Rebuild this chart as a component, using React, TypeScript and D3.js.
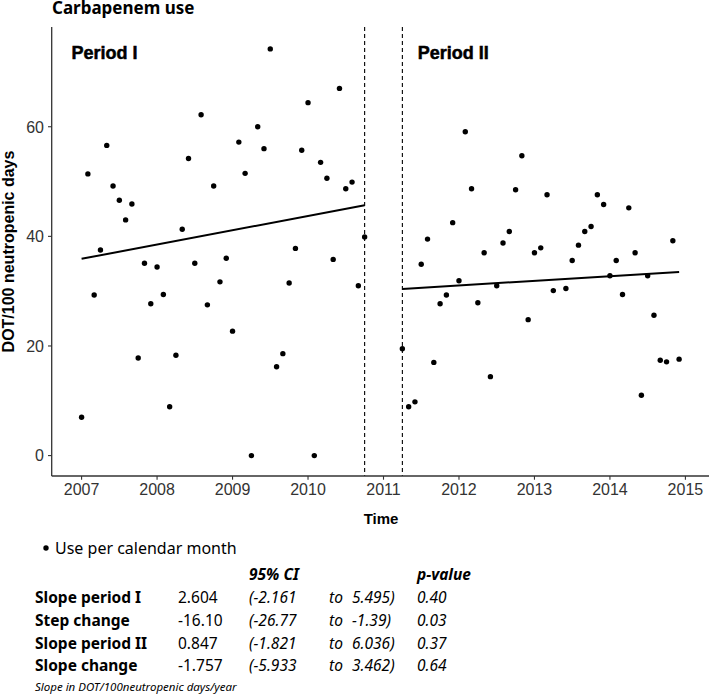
import React from 'react';
import * as d3 from 'd3';

const W = 709;
const H = 695;

// Monthly carbapenem use (DOT/100 neutropenic days)
const startYear = 2007;
const period1StartMonth = 0; // Jan 2007
const period1Values = [7.0, 51.4, 29.3, 37.5, 56.6, 49.2, 46.6, 43.0, 45.9, 17.8, 35.1, 27.7, 34.4, 29.4, 8.9, 18.3, 41.3, 54.2, 35.1, 62.2, 27.5, 49.2, 31.7, 36.0, 22.7, 57.2, 51.5, 0, 60.0, 56.0, 74.2, 16.2, 18.6, 31.5, 37.8, 55.7, 64.4, 0, 53.5, 50.6, 35.8, 67.0, 48.7, 49.9, 31.0, 39.9];
const period2StartMonth = 51; // Apr 2011
const period2Values: (number | null)[] = [19.5, 8.9, 9.8, 34.9, 39.5, 17.0, 27.7, 29.3, 42.5, 31.9, 59.1, 48.7, 27.9, 37.0, 14.4, 31.0, 38.8, 40.9, 48.5, 54.7, 24.8, 37.0, 37.9, 47.6, 30.1, null, 30.5, 35.6, 38.4, 40.9, 41.8, 47.6, 45.8, 32.8, 35.6, 29.4, 45.2, 37.0, 11.0, 32.8, 25.6, 17.4, 17.1, 39.2, 17.6];

// Segmented regression trend lines
const trendIntercepts = [35.9, 30.4];
const trendSlopes = [2.604, 0.847];

const periodLabels = ['Period I', 'Period II'];
const xTicks = [2007, 2008, 2009, 2010, 2011, 2012, 2013, 2014, 2015];
const yTicks = [0, 20, 40, 60];

// Table
const tableRowLabels = ['Slope period I', 'Step change', 'Slope period II', 'Slope change'];
const tableEstimates = ['2.604', '-16.10', '0.847', '-1.757'];
const tableCiLow = ['(-2.161', '(-26.77', '(-1.821', '(-5.933'];
const tableCiHigh = ['5.495)', '-1.39)', '6.036)', '3.462)'];
const tablePValues = ['0.40', '0.03', '0.37', '0.64'];

const monthToTime = (m: number) => startYear + m / 12;

export default function App() {
  const left = 51.7;
  const right = 709;
  const top = 27;
  const bottom = 476;

  const x = d3.scaleLinear().domain([2006.604, 2015.3125]).range([left, right]);
  const y = d3.scaleLinear().domain([-3.725, 78.2]).range([bottom, top]);

  const p1 = period1Values.map((v, i) => ({ t: monthToTime(period1StartMonth + i), v }));
  const p2 = period2Values
    .map((v, i) => ({ t: monthToTime(period2StartMonth + i), v }))
    .filter((d) => d.v !== null) as { t: number; v: number }[];
  const points = [...p1, ...p2];

  const p1Start = monthToTime(period1StartMonth);
  const p1End = monthToTime(period1StartMonth + period1Values.length - 1);
  const p2Start = monthToTime(period2StartMonth);
  const p2End = monthToTime(period2StartMonth + period2Values.length - 1);

  const trend1 = [
    { t: p1Start, v: trendIntercepts[0] },
    { t: p1End, v: trendIntercepts[0] + trendSlopes[0] * (p1End - p1Start) },
  ];
  const trend2 = [
    { t: p2Start, v: trendIntercepts[1] },
    { t: p2End, v: trendIntercepts[1] + trendSlopes[1] * (p2End - p2Start) },
  ];
  const line = d3
    .line<{ t: number; v: number }>()
    .x((d) => x(d.t))
    .y((d) => y(d.v));

  const axisFont = "'Liberation Sans', Arial, sans-serif";
  const uiFont = "'Noto Sans', 'Open Sans', sans-serif";

  const tableHeaderY = 580;
  const tableRowY = [603, 626, 648.5, 671];
  const colX = { label: 35, est: 178, lo: 249, to: 329, hi: 352, p: 417 };

  return (
    <svg width={W} height={H} style={{ position: 'absolute', left: 0, top: 0, background: '#fff' }}>
      <rect x={0} y={0} width={W} height={H} fill="#fff" />
      {/* Title */}
      <text x={52} y={13.5} fontFamily={uiFont} fontWeight={700} fontSize={17} fill="#000">
        Carbapenem use
      </text>

      {/* dashed interruption lines */}
      {[p1End, p2Start].map((t, i) => (
        <line key={i} x1={x(t)} x2={x(t)} y1={top} y2={bottom} stroke="#000" strokeWidth={1.1} strokeDasharray="4,3" />
      ))}

      {/* trend lines */}
      <path d={line(trend1) || ''} fill="none" stroke="#000" strokeWidth={2} />
      <path d={line(trend2) || ''} fill="none" stroke="#000" strokeWidth={2} />

      {/* points */}
      {points.map((d, i) => (
        <circle key={i} cx={x(d.t)} cy={y(d.v)} r={2.7} fill="#000" />
      ))}

      {/* period labels */}
      <text x={71.5} y={58.5} fontFamily={axisFont} fontWeight={700} fontSize={18} fill="#000" stroke="#000" strokeWidth={0.5}>
        {periodLabels[0]}
      </text>
      <text x={417.7} y={58.5} fontFamily={axisFont} fontWeight={700} fontSize={18} fill="#000" stroke="#000" strokeWidth={0.5}>
        {periodLabels[1]}
      </text>

      {/* axes */}
      <line x1={left} x2={left} y1={top} y2={bottom} stroke="#333" strokeWidth={1.3} />
      <line x1={left} x2={right} y1={bottom} y2={bottom} stroke="#333" strokeWidth={1.3} />
      {yTicks.map((v) => (
        <g key={v}>
          <line x1={left - 3.7} x2={left} y1={y(v)} y2={y(v)} stroke="#333" strokeWidth={1.1} />
          <text x={44} y={y(v)} dy="0.36em" textAnchor="end" fontFamily={axisFont} fontSize={16} fill="#333">
            {v}
          </text>
        </g>
      ))}
      {xTicks.map((v) => (
        <g key={v}>
          <line x1={x(v)} x2={x(v)} y1={bottom} y2={bottom + 3.7} stroke="#333" strokeWidth={1.1} />
          <text x={x(v)} y={495} textAnchor="middle" fontFamily={axisFont} fontSize={16} fill="#333">
            {v}
          </text>
        </g>
      ))}
      <text
        transform={`translate(13.5, ${(top + bottom) / 2}) rotate(-90)`}
        textAnchor="middle"
        fontFamily={axisFont}
        fontWeight={700}
        fontSize={16}
        fill="#000"
      >
        DOT/100 neutropenic days
      </text>
      <text x={381} y={524} textAnchor="middle" fontFamily={axisFont} fontWeight={700} fontSize={15} fill="#000">
        Time
      </text>

      {/* legend */}
      <circle cx={46} cy={548} r={2.7} fill="#000" />
      <text x={55} y={554} fontFamily={uiFont} fontSize={16} fill="#000">
        Use per calendar month
      </text>

      {/* table */}
      <g fontFamily={uiFont} fontSize={15.5} fill="#000">
        <text x={colX.lo} y={tableHeaderY} fontStyle="italic" fontWeight={700}>95% CI</text>
        <text x={colX.p} y={tableHeaderY} fontStyle="italic" fontWeight={700}>p-value</text>
        {tableRowLabels.map((lab, i) => (
          <g key={lab}>
            <text x={colX.label} y={tableRowY[i]} fontWeight={700}>{lab}</text>
            <text x={colX.est} y={tableRowY[i]}>{tableEstimates[i]}</text>
            <text x={colX.lo} y={tableRowY[i]} fontStyle="italic">{tableCiLow[i]}</text>
            <text x={colX.to} y={tableRowY[i]} fontStyle="italic">to</text>
            <text x={colX.hi} y={tableRowY[i]} fontStyle="italic">{tableCiHigh[i]}</text>
            <text x={colX.p} y={tableRowY[i]} fontStyle="italic">{tablePValues[i]}</text>
          </g>
        ))}
        <text x={colX.label} y={691} fontStyle="italic" fontSize={11.5}>
          Slope in DOT/100neutropenic days/year
        </text>
      </g>
    </svg>
  );
}
